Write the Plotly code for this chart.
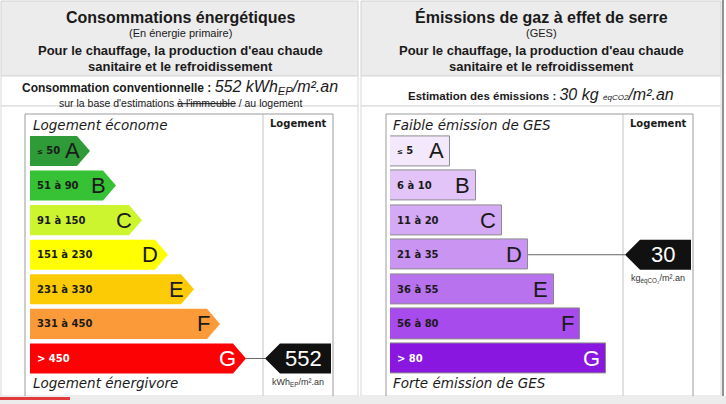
import plotly.graph_objects as go

# --- données de l'étiquette
classes = ["A", "B", "C", "D", "E", "F", "G"]
conso_ranges = ["≤ 50", "51 à 90", "91 à 150", "151 à 230", "231 à 330", "331 à 450", "> 450"]
ges_ranges = ["≤ 5", "6 à 10", "11 à 20", "21 à 35", "36 à 55", "56 à 80", "> 80"]
bar_lengths = [60, 86, 112, 138, 164, 190, 216]
conso_colors = ["#2f9a38", "#36c234", "#cdf52f", "#ffff00", "#fccb05", "#fb9a38", "#fc0205"]
ges_colors = ["#f4e8fc", "#e2c4f9", "#d4a9f6", "#ca94f2", "#b972ee", "#a84bec", "#8a17e0"]
conso_value = 552
conso_class = "G"
ges_value = 30
ges_class = "D"

W, H = 726, 404
FONT = "Liberation Sans, Arial"
VERD = "DejaVu Sans, Verdana"
TXT = "#1a1a1a"
HALF = 0.435       # demi-hauteur d'une barre (en rangs)
ROW0, PITCH = 151.0, 34.58   # centre de la classe A et pas entre classes (px)


def px(x):
    return x / W


def py(y):
    return 1 - y / H


def small_le(label):
    if label.startswith("≤"):
        return '<span style="font-size:7px">≤</span>' + label[1:]
    return label


fig = go.Figure()
annotations = []
shapes = []

# --- Cadres du tableau (fond, lignes)
for x0, x1 in [(1, 358), (361, 721)]:
    shapes.append(dict(type="rect", xref="paper", yref="paper", x0=px(x0), x1=px(x1), y0=py(1), y1=py(76),
                       fillcolor="#ececec", line=dict(color="#d2d2d2", width=1), layer="below"))
    shapes.append(dict(type="rect", xref="paper", yref="paper", x0=px(x0), x1=px(x1), y0=py(76), y1=py(106),
                       fillcolor="white", line=dict(color="#d8d8d8", width=1), layer="below"))
    shapes.append(dict(type="rect", xref="paper", yref="paper", x0=px(x0), x1=px(x1), y0=py(106), y1=py(396),
                       fillcolor="white", line=dict(color="#d8d8d8", width=1), layer="below"))

shapes.append(dict(type="line", xref="paper", yref="paper", x0=px(723), x1=px(723), y0=py(0), y1=py(396),
                   line=dict(color="#6e6e6e", width=1.5), layer="below"))
shapes.append(dict(type="rect", xref="paper", yref="paper", x0=0, x1=1, y0=0, y1=py(396),
                   fillcolor="#ececec", line=dict(width=0), layer="below"))
shapes.append(dict(type="rect", xref="paper", yref="paper", x0=0, x1=px(70), y0=py(400), y1=py(397),
                   fillcolor="#e23a3a", line=dict(width=0), layer="below"))

# cadre du graphique + colonne "Logement"
for fl, sep, fr in [(25, 263, 333), (386, 623, 693)]:
    for xa, ya, xb, yb, col in [(fl, 114, fr, 114, "#9a9a9a"), (fl, 114, fl, 396, "#9a9a9a"),
                                (fr, 114, fr, 396, "#9a9a9a"), (sep, 114, sep, 396, "#c4c4c4")]:
        shapes.append(dict(type="line", xref="paper", yref="paper", x0=px(xa), x1=px(xb), y0=py(ya), y1=py(yb),
                           line=dict(color=col, width=1), layer="below"))


def note(text, x, y, size, family=FONT, color=TXT, xanchor="center", xref="paper", yref="paper"):
    annotations.append(dict(text=text, x=x, y=y, xref=xref, yref=yref, showarrow=False,
                            xanchor=xanchor, yanchor="middle", font=dict(size=size, family=family, color=color)))


# --- En-têtes
note("<b>Consommations énergétiques</b>", px(180), py(17), 16)
note("(En énergie primaire)", px(180), py(33), 11)
note("<b>Pour le chauffage, la production d'eau chaude</b>", px(180), py(50), 13)
note("<b>sanitaire et le refroidissement</b>", px(180), py(66), 13)
note("<b>Émissions de gaz à effet de serre</b>", px(541), py(17), 16)
note("(GES)", px(541), py(33), 11)
note("<b>Pour le chauffage, la production d'eau chaude</b>", px(541), py(50), 13)
note("<b>sanitaire et le refroidissement</b>", px(541), py(66), 13)

note(f'<b>Consommation conventionnelle : </b><span style="font-size:16px"><i>{conso_value} kWh<sub>EP</sub>/m².an</i></span>',
     px(180), py(88), 12)
note("sur la base d'estimations <s>à l'immeuble</s> / au logement", px(180), py(103), 10.5)
note(f'<b>Estimation des émissions : </b><span style="font-size:16px"><i>{ges_value} kg </i></span>'
     f'<span style="font-size:8px"><i>éqCO2</i></span><span style="font-size:16px"><i>/m².an</i></span>',
     px(541), py(94), 11.5)

# --- Légendes des échelles
note("<i>Logement économe</i>", px(31), py(125), 13.5, family=VERD, xanchor="left")
note("<i>Logement énergivore</i>", px(31), py(383), 13.5, family=VERD, xanchor="left")
note("<i>Faible émission de GES</i>", px(391), py(125), 13.5, family=VERD, xanchor="left")
note("<i>Forte émission de GES</i>", px(391), py(383), 13.5, family=VERD, xanchor="left")
note("<b>Logement</b>", px(298), py(123), 10, family=VERD)
note("<b>Logement</b>", px(658), py(123), 10, family=VERD)

# --- Barres énergie (flèches)
for i, (cl, rg, L, col) in enumerate(zip(classes, conso_ranges, bar_lengths, conso_colors)):
    fig.add_trace(go.Scatter(
        x=[0, L - 13, L, L - 13, 0, 0], y=[i - HALF, i - HALF, i, i + HALF, i + HALF, i - HALF],
        mode="lines", fill="toself", fillcolor=col, line=dict(width=0),
        hoverinfo="skip", showlegend=False, xaxis="x", yaxis="y"))
    tc = "white" if cl == "G" else TXT
    note(f"<b>{small_le(rg)}</b>", 5, i, 10, family=VERD, color=tc, xanchor="left", xref="x", yref="y")
    note(cl, L - 8, i, 22, color=tc, xanchor="right", xref="x", yref="y")

# --- Barres GES
fig.add_trace(go.Bar(
    x=bar_lengths, y=list(range(len(classes))), orientation="h", width=0.87,
    marker=dict(color=ges_colors, line=dict(color="#8c8c8c", width=1)),
    hoverinfo="skip", showlegend=False, xaxis="x2", yaxis="y"))
for i, (cl, rg, L) in enumerate(zip(classes, ges_ranges, bar_lengths)):
    tc = "white" if cl == "G" else TXT
    note(f"<b>{small_le(rg)}</b>", 5, i, 10, family=VERD, color=tc, xanchor="left", xref="x2", yref="y")
    note(cl, L - 4, i, 22, color=tc, xanchor="right", xref="x2", yref="y")


# --- Curseurs du logement
def cursor(xaxis, cls, value, unit):
    i = classes.index(cls)
    L = bar_lengths[i]
    fig.add_trace(go.Scatter(x=[L, 235], y=[i, i], mode="lines", line=dict(color="#666", width=1),
                             hoverinfo="skip", showlegend=False, xaxis=xaxis, yaxis="y"))
    fig.add_trace(go.Scatter(
        x=[235, 250, 301, 301, 250, 235], y=[i, i - HALF, i - HALF, i + HALF, i + HALF, i],
        mode="lines", fill="toself", fillcolor="#111111", line=dict(width=0),
        hoverinfo="skip", showlegend=False, xaxis=xaxis, yaxis="y"))
    note(str(value), 273, i, 22, color="white", xref=xaxis, yref="y")
    note(unit, 268, i + 0.7, 9, color="#333", xref=xaxis, yref="y")


cursor("x", conso_class, conso_value, "kWh<sub>EP</sub>/m².an")
cursor("x2", ges_class, ges_value, "kg<sub>éqCO₂</sub>/m².an")

y_lo, y_hi = -1.0, 7.0
hidden = dict(visible=False, showgrid=False, zeroline=False, fixedrange=True)
fig.update_layout(
    width=W, height=H, margin=dict(l=0, r=0, t=0, b=0),
    paper_bgcolor="white", plot_bgcolor="rgba(0,0,0,0)",
    xaxis=dict(domain=[px(30), px(333)], range=[0, 303], anchor="y", **hidden),
    xaxis2=dict(domain=[px(390), px(693)], range=[0, 303], anchor="y", **hidden),
    yaxis=dict(domain=[py(ROW0 + y_hi * PITCH), py(ROW0 + y_lo * PITCH)], range=[y_hi, y_lo],
               anchor="x", **hidden),
    shapes=shapes, annotations=annotations, showlegend=False, bargap=0,
)

# pas de marge autour du graphique dans la page
fig.write_html("out.html", config={"displayModeBar": False},
               post_script="document.body.style.margin = '0px';")
